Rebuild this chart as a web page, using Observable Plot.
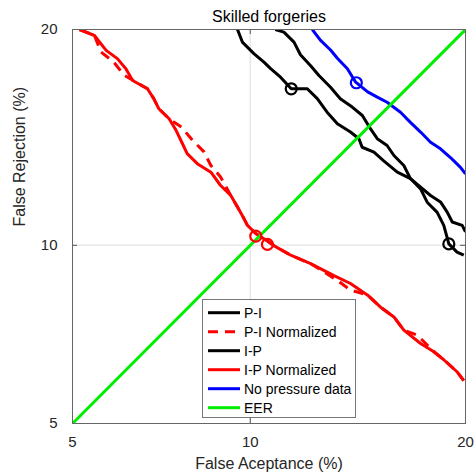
<!DOCTYPE html>
<html><head><meta charset="utf-8">
<script src="https://cdn.jsdelivr.net/npm/d3@7"></script>
<script src="https://cdn.jsdelivr.net/npm/@observablehq/plot@0.6"></script>
<style>
body{margin:0;background:#fff;}
#wrap{position:relative;width:474px;height:474px;font-family:"Liberation Sans",Arial,Helvetica,sans-serif;}
#legend{position:absolute;left:202px;top:299px;}
</style></head><body><div id="wrap"></div>
<script>
// ---- data (percent) ----
const title = "Skilled forgeries";
const xLabel = "False Aceptance (%)";
const yLabel = "False Rejection (%)";
const tickValues = [5, 10, 20];
const seriesNames = ["P-I", "P-I Normalized", "I-P", "I-P Normalized", "No pressure data", "EER"];
const seriesColors = ["#000000", "#ff0000", "#000000", "#ff0000", "#0000ff", "#00ee00"];
const seriesDashes = [null, "10,7", null, null, null, null];

// [false acceptance %, false rejection %]
const pI = [[9.55,20.0],[9.72,19.29],[10.13,18.65],[10.5,18.19],[10.75,17.84],[11.13,17.39],[11.55,16.79],[12.2,16.79],[12.62,16.29],[13.04,15.62],[13.49,15.06],[14.08,14.67],[14.47,14.36],[14.62,13.97],[15.18,13.75],[15.64,13.37],[16.33,12.87],[17.0,12.6],[18.06,11.9],[18.6,11.64],[18.97,11.24],[19.25,10.86],[19.81,10.73],[20.0,10.49]];
const pINorm = [[5.15,20.0],[5.48,19.66],[5.63,18.74],[5.93,18.2],[6.18,17.5],[6.79,16.79],[6.96,16.29],[7.10,15.79],[7.39,15.30],[7.75,14.90],[8.08,14.29],[8.44,13.76],[8.66,13.16],[8.97,12.68],[9.32,11.90],[9.55,11.44],[9.78,10.98],[9.90,10.73],[10.20,10.43],[10.50,10.24],[10.87,9.99],[11.53,9.65],[12.34,9.36],[13.49,8.80],[14.08,8.49],[14.88,8.33],[15.50,7.96],[16.16,7.67],[16.66,7.29],[17.36,7.15],[18.24,6.70],[18.78,6.49],[19.53,6.18],[19.9,5.97]];
const iP = [[10.93,20.0],[11.26,19.85],[11.66,19.29],[11.92,18.59],[12.34,18.0],[12.69,17.48],[13.19,16.87],[13.62,16.29],[14.16,15.87],[14.63,15.46],[15.01,14.83],[15.34,14.36],[15.82,14.05],[16.16,13.6],[16.66,13.16],[17.0,12.6],[17.53,12.17],[17.88,11.63],[18.42,11.23],[18.78,10.73],[19.06,10.05],[19.52,9.76],[19.9,9.65]];
const iPNorm = [[5.15,20.0],[5.48,19.66],[5.60,19.29],[5.75,18.83],[6.02,18.38],[6.23,17.84],[6.40,17.22],[6.79,16.79],[6.96,16.29],[7.10,15.79],[7.39,15.30],[7.59,14.75],[7.78,14.13],[7.92,13.68],[8.23,13.24],[8.66,12.87],[8.97,12.32],[9.32,11.90],[9.55,11.44],[9.78,10.98],[9.90,10.73],[10.20,10.43],[10.50,10.24],[10.87,9.99],[11.53,9.65],[12.34,9.36],[13.34,8.96],[14.08,8.70],[14.88,8.33],[15.50,7.96],[16.16,7.67],[16.66,7.29],[17.53,6.92],[18.24,6.70],[18.78,6.49],[19.53,6.18],[19.9,5.97]];
const noPressure = [[12.41,20.0],[12.75,19.4],[13.19,18.85],[13.49,18.4],[13.94,17.84],[14.32,17.13],[14.88,16.63],[15.34,16.37],[15.82,16.11],[16.49,15.62],[17.0,15.13],[17.53,14.67],[18.06,14.2],[18.6,13.9],[19.15,13.51],[19.7,13.09],[20.0,12.8]];
const eer = [[5,5],[20,20]];
// operating points marked with circles: [FA, FR]
const markPoints = [[11.55,16.79],[10.63,10.03],[19.06,10.05],[10.20,10.33],[14.35,17.1]];
const markColors = ["#000000","#ff0000","#000000","#ff0000","#0000ff"];

// ---- normal deviate (probit) transform for DET axes ----
function probit(p){
  const a=[-3.969683028665376e+01,2.209460984245205e+02,-2.759285104469687e+02,1.383577518672690e+02,-3.066479806614716e+01,2.506628277459239e+00];
  const b=[-5.447609879822406e+01,1.615858368580409e+02,-1.556989798598866e+02,6.680131188771972e+01,-1.328068155288572e+01];
  const c=[-7.784894002430293e-03,-3.223964580411365e-01,-2.400758277161838e+00,-2.549732539343734e+00,4.374664141464968e+00,2.938163982698783e+00];
  const d=[7.784695709041462e-03,3.224671290700398e-01,2.445134137142996e+00,3.754408661907416e+00];
  const pl=0.02425, ph=1-pl; let q,r;
  if(p<pl){q=Math.sqrt(-2*Math.log(p));return (((((c[0]*q+c[1])*q+c[2])*q+c[3])*q+c[4])*q+c[5])/((((d[0]*q+d[1])*q+d[2])*q+d[3])*q+1);}
  if(p<=ph){q=p-0.5;r=q*q;return (((((a[0]*r+a[1])*r+a[2])*r+a[3])*r+a[4])*r+a[5])*q/(((((b[0]*r+b[1])*r+b[2])*r+b[3])*r+b[4])*r+1);}
  q=Math.sqrt(-2*Math.log(1-p));return -(((((c[0]*q+c[1])*q+c[2])*q+c[3])*q+c[4])*q+c[5])/((((d[0]*q+d[1])*q+d[2])*q+d[3])*q+1);
}
const P = v => probit(v/100);
const fmt = d => { const m = tickValues.find(v => Math.abs(P(v)-d) < 1e-9); return m == null ? "" : String(m); };

const seriesData = [pI, pINorm, iP, iPNorm, noPressure, eer];
const lineMark = (data, i) => Plot.line(data, {
  x: d => P(d[0]), y: d => P(d[1]), stroke: seriesColors[i], strokeWidth: 3,
  strokeDasharray: seriesDashes[i] || undefined, strokeLinejoin: "round", strokeLinecap: "butt", clip: true
});

const innerTicks = [P(10)];
const font = "'Liberation Sans',Arial,Helvetica,sans-serif";
const chart = Plot.plot({
  width: 474, height: 474,
  marginTop: 29, marginLeft: 72, marginRight: 9, marginBottom: 51,
  style: {fontFamily: font, background: "transparent", color: "#262626"},
  x: {type: "linear", domain: [P(5), P(20)]},
  y: {type: "linear", domain: [P(5), P(20)]},
  marks: [
    Plot.gridX(innerTicks, {stroke: "#e8e8e8", strokeOpacity: 1, strokeWidth: 1.5}),
    Plot.gridY(innerTicks, {stroke: "#e8e8e8", strokeOpacity: 1, strokeWidth: 1.5}),
    Plot.ruleX(innerTicks, {stroke: "#555", insetBottom: 389}),
    Plot.ruleX(innerTicks, {stroke: "#555", insetTop: 389}),
    Plot.ruleY(innerTicks, {stroke: "#555", insetRight: 388}),
    Plot.ruleY(innerTicks, {stroke: "#555", insetLeft: 388}),
    ...seriesData.map((d, i) => lineMark(d, i)),
    Plot.dot(markPoints, {x: d => P(d[0]), y: d => P(d[1]), r: 5.5, stroke: (d, i) => markColors[i], strokeWidth: 2.2, fill: "none"}),
    Plot.frame({stroke: "#666", strokeWidth: 1}),
    Plot.axisX(tickValues.map(P), {tickSize: 0, tickPadding: 13, fontSize: 15, tickFormat: fmt, label: null, fill: "#262626"}),
    Plot.axisY(tickValues.map(P), {tickSize: 0, tickPadding: 15, fontSize: 15, tickFormat: fmt, label: null, fill: "#262626"}),
    Plot.text([title], {frameAnchor: "top", dy: -8, lineAnchor: "bottom", fontSize: 16, fill: "#000"}),
    Plot.text([xLabel], {frameAnchor: "bottom", dy: 45, lineAnchor: "bottom", fontSize: 16, fill: "#262626"}),
    Plot.text([yLabel], {frameAnchor: "left", dx: -53, rotate: -90, lineAnchor: "middle", fontSize: 16, fill: "#262626"})
  ]
});
const wrap = document.getElementById("wrap");
wrap.appendChild(chart);

// ---- legend (inside the axes, bottom centre) ----
const lw = 154, lh = 119, rowH = 19, row0 = 13.7;
const lg = d3.select(wrap).append("svg").attr("id", "legend").attr("width", lw + 1).attr("height", lh + 1);
lg.append("rect").attr("x", 0.5).attr("y", 0.5).attr("width", lw - 1).attr("height", lh - 1)
  .attr("fill", "#fff").attr("stroke", "#777");
seriesNames.forEach((name, i) => {
  const y = row0 + i * rowH;
  lg.append("line").attr("x1", 6).attr("x2", 38).attr("y1", y).attr("y2", y)
    .attr("stroke", seriesColors[i]).attr("stroke-width", 3)
    .attr("stroke-dasharray", seriesDashes[i]);
  lg.append("text").attr("x", 42).attr("y", y).attr("dy", "0.35em")
    .attr("font-family", font).attr("font-size", 14).attr("fill", "#000").text(name);
});
</script></body></html>
